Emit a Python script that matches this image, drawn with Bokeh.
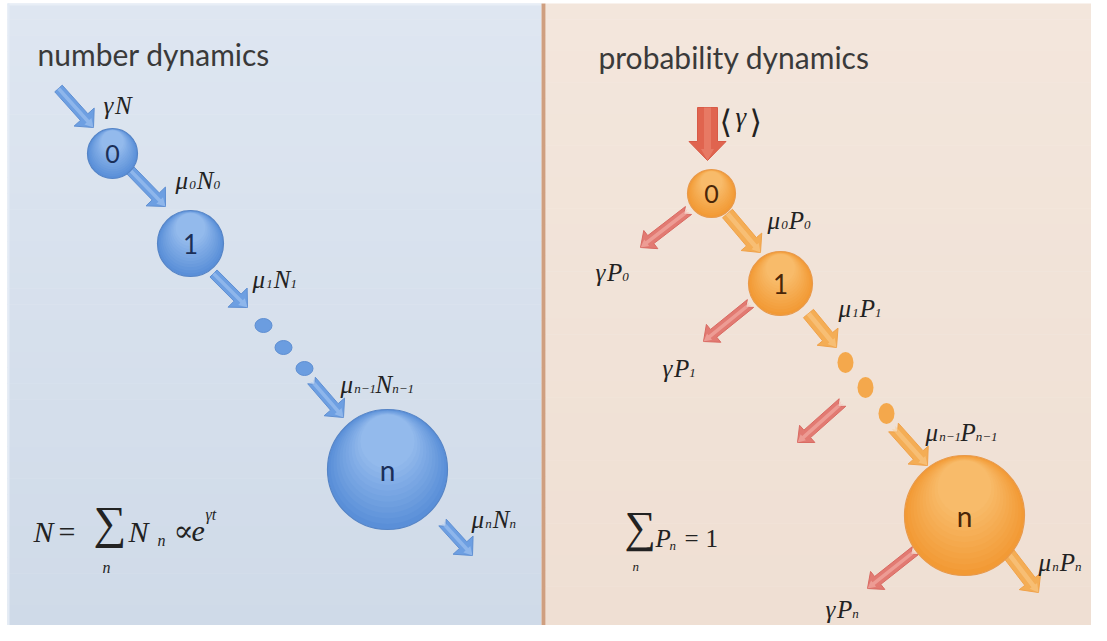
import math
from bokeh.plotting import figure
from bokeh.models import Range1d, ColumnDataSource
from bokeh.core.properties import value
from bokeh.embed import file_html
from bokeh.resources import INLINE

# ---------------- data ----------------
titles = ["number dynamics", "probability dynamics"]
title_x = [37, 598]
title_y = [53, 56]

# left: number dynamics
left_node_x = [112, 190, 387]
left_node_y = [153, 243, 469]
left_node_r = [25, 33, 60]
left_node_label = ["0", "1", "n"]
left_dot_x = [263, 283, 304]
left_dot_y = [325, 347, 368]
left_arrow_tail = [(58, 88), (130, 170), (213, 273), (311, 380), (442, 522)]
left_arrow_tip = [(93, 127), (165, 206), (247, 307), (343, 417), (472, 555)]
left_labels = [
    [("γ", "m"), ("N", "m")],
    [("μ", "m"), ("0", "s"), ("N", "m"), ("0", "s")],
    [("μ", "m"), ("1", "s"), ("N", "m"), ("1", "s")],
    [("μ", "m"), ("n−1", "s"), ("N", "m"), ("n−1", "s")],
    [("μ", "m"), ("n", "s"), ("N", "m"), ("n", "s")],
]
left_label_x = [103, 175, 252, 340, 471]
left_label_y = [105, 180, 279, 384, 519]

# right: probability dynamics
right_node_x = [711, 780, 964]
right_node_y = [193, 283, 515]
right_node_r = [24, 32, 60]
right_node_label = ["0", "1", "n"]
right_dot_x = [845, 865, 886]
right_dot_y = [362, 387, 413]
orange_arrow_tail = [(727, 213), (808, 313), (893, 427), (1008, 553)]
orange_arrow_tip = [(760, 252), (836, 347), (927, 465), (1038, 592)]
red_arrow_tail = [(688, 210), (750, 303), (842, 402), (915, 550)]
red_arrow_tip = [(640, 247), (703, 341), (797, 442), (867, 588)]
influx_tail = (707, 107)
influx_tip = (707, 160)
right_labels = [
    [("μ", "m"), ("0", "s"), ("P", "m"), ("0", "s")],
    [("γ", "m"), ("P", "m"), ("0", "s")],
    [("μ", "m"), ("1", "s"), ("P", "m"), ("1", "s")],
    [("γ", "m"), ("P", "m"), ("1", "s")],
    [("μ", "m"), ("n−1", "s"), ("P", "m"), ("n−1", "s")],
    [("γ", "m"), ("P", "m"), ("n", "s")],
    [("μ", "m"), ("n", "s"), ("P", "m"), ("n", "s")],
]
right_label_x = [767, 595, 838, 662, 925, 825, 1038]
right_label_y = [220, 272, 308, 368, 432, 609, 562]

# ---------------- figure ----------------
W, H = 1091, 625
p = figure(width=W, height=H, x_range=Range1d(0, W), y_range=Range1d(H, 0),
           output_backend="svg", toolbar_location=None, min_border=0)
p.axis.visible = False
p.grid.visible = False
p.outline_line_color = None
p.background_fill_color = "white"
p.border_fill_color = "white"


def hex2rgb(h):
    h = h.lstrip("#")
    return tuple(int(h[i:i + 2], 16) for i in (0, 2, 4))


def mix(c1, c2, t):
    a, b = hex2rgb(c1), hex2rgb(c2)
    return "#%02x%02x%02x" % tuple(int(round(a[i] + (b[i] - a[i]) * t)) for i in range(3))


# panel backgrounds (vertical gradient)
def panel(x0, x1, y0, y1, ctop, cbot, n=40):
    tops, bots, cols = [], [], []
    for i in range(n):
        a = y0 + (y1 - y0) * i / n
        b = y0 + (y1 - y0) * (i + 1) / n
        tops.append(a)
        bots.append(b + 0.5)
        cols.append(mix(ctop, cbot, i / (n - 1)))
    p.quad(left=[x0] * n, right=[x1] * n, top=tops, bottom=bots, fill_color=cols, line_color=None)


panel(7, 541, 3, 636, "#dee6f1", "#cfdae8")
panel(545, 1107, 3, 633, "#f3e6dc", "#efdfd3")
p.quad(left=[7], right=[541], top=[3], bottom=[5], fill_color="#e8eef6", line_color=None)
p.quad(left=[7], right=[9], top=[3], bottom=[636], fill_color="#e4ebf5", line_color=None)
p.quad(left=[541], right=[545], top=[3], bottom=[636], fill_color="#cf9f80", line_color=None)
p.quad(left=[545], right=[1107], top=[632], bottom=[637], fill_color="#f5c195", line_color=None)


# arrows
def arrow_poly(tail, tip, w, hw, hl, notch=0.0):
    x0, y0 = tail
    x1, y1 = tip
    dx, dy = x1 - x0, y1 - y0
    L = math.hypot(dx, dy)
    ux, uy = dx / L, dy / L
    nx, ny = -uy, ux
    bx, by = x1 - ux * hl, y1 - uy * hl
    pts = [(x0 + nx * w / 2, y0 + ny * w / 2), (bx + nx * w / 2, by + ny * w / 2),
           (bx + nx * hw / 2, by + ny * hw / 2), (x1, y1),
           (bx - nx * hw / 2, by - ny * hw / 2), (bx - nx * w / 2, by - ny * w / 2),
           (x0 - nx * w / 2, y0 - ny * w / 2)]
    if notch:
        pts.append((x0 + ux * notch, y0 + uy * notch))
    return [q[0] for q in pts], [q[1] for q in pts]


def draw_arrows(tails, tips, w, hw, hl, fill, edge, hi, notches):
    xs, ys, hxs, hys = [], [], [], []
    for t, e, nt in zip(tails, tips, notches):
        a, b = arrow_poly(t, e, w, hw, hl, nt)
        xs.append(a)
        ys.append(b)
        c, d = arrow_poly(t, e, w * 0.35, hw * 0.35, hl * 0.6, nt * 0.5)
        hxs.append(c)
        hys.append(d)
    p.patches(xs, ys, fill_color=fill, line_color=edge, line_width=1)
    p.patches(hxs, hys, fill_color=hi, fill_alpha=0.55, line_color=None)


draw_arrows(left_arrow_tail, left_arrow_tip, 10, 27, 14, "#6d9fe2", "#5f8fd2", "#a9c8f2",
            [0, 0, 0, 5, 5])
draw_arrows(orange_arrow_tail, orange_arrow_tip, 13, 27, 14, "#f4ad55", "#f0a24a", "#f9cc8e",
            [0, 0, 6, 0])
draw_arrows(red_arrow_tail, red_arrow_tip, 10, 23, 13, "#e27a72", "#d96a62", "#f6b8b0",
            [6, 6, 6, 6])
draw_arrows([influx_tail], [influx_tip], 20, 37, 19, "#e0644f", "#d85a47", "#ec8a76", [0])


# shaded balls
def balls(xs, ys, rs, cbot, ctop, edge, k=12):
    bx, by, br, bc = [], [], [], []
    for x, y, r in zip(xs, ys, rs):
        for i in range(k):
            t = i / (k - 1)
            rr = r * (1 - 0.55 * t)
            bx.append(x)
            by.append(y - (r - rr) * 0.85)
            br.append(rr)
            bc.append(mix(cbot, ctop, t))
    p.circle(bx, by, radius=br, fill_color=bc, line_color=None)
    p.circle(xs, ys, radius=rs, fill_color=None, line_color=edge, line_width=1.2)


balls(left_node_x, left_node_y, left_node_r, "#5a8fd8", "#93baec", "#5584c6")
balls(right_node_x, right_node_y, right_node_r, "#f29a35", "#f8bb6a", "#e8994a")

p.ellipse(left_dot_x, left_dot_y, width=17, height=14, fill_color="#6b9de0", line_color="#5f8fd2")
p.ellipse(right_dot_x, right_dot_y, width=16, height=21, fill_color="#f4a84c", line_color=None)

# node labels
sans = value("Lato")
node_sizes = ["25px", "26px", "28px"]
for nx_, ny_, lab, col in [(left_node_x, left_node_y, left_node_label, "#1b2f58"),
                           (right_node_x, right_node_y, right_node_label, "#4a2608")]:
    src = ColumnDataSource(dict(x=nx_, y=ny_, t=lab, s=node_sizes))
    p.text("x", "y", text="t", source=src, text_font=sans, text_font_size="s",
           text_color=col, text_align="center", text_baseline="middle")

# titles
p.text(title_x, title_y, text=titles, text_font=sans, text_font_size="30px",
       text_color="#3a3a3a", text_baseline="alphabetic")

# math labels
WID = {"μ": 0.55, "γ": 0.46, "N": 0.667, "P": 0.611, "0": 0.5, "1": 0.5, "n": 0.5, "−": 0.56}
MAIN, SUB = 25, 13
serif = value("Liberation Serif")
mx, my, mt, sx, sy, st = [], [], [], [], [], []
for labs, lx, ly in [(left_labels, left_label_x, left_label_y),
                     (right_labels, right_label_x, right_label_y)]:
    for parts, x, y in zip(labs, lx, ly):
        cx = x
        for txt, kind in parts:
            if kind == "m":
                mx.append(cx); my.append(y); mt.append(txt)
                cx += sum(WID.get(c, 0.5) for c in txt) * MAIN
            else:
                sx.append(cx); sy.append(y + 4); st.append(txt)
                cx += sum(WID.get(c, 0.5) for c in txt) * SUB + 1
p.text(mx, my, text=mt, text_font=serif, text_font_style="italic",
       text_font_size=f"{MAIN}px", text_color="#222222", text_baseline="alphabetic")
p.text(sx, sy, text=st, text_font=serif, text_font_style="italic",
       text_font_size=f"{SUB}px", text_color="#222222", text_baseline="alphabetic")

# <gamma>
p.text([719, 749], [121, 121], text=["⟨", "⟩"], text_font=value("DejaVu Sans"),
       text_font_size="32px", text_color="#222222", text_baseline="alphabetic")
p.text([735], [116], text=["γ"], text_font=serif, text_font_style="italic",
       text_font_size="27px", text_color="#222222", text_baseline="alphabetic")

# formulas
# left: N = sum_n N_n ∝ e^{γt}
p.text([33, 128, 191], [531, 531, 531], text=["N", "N", "e"], text_font=serif,
       text_font_style="italic", text_font_size="30px", text_color="#222222",
       text_baseline="alphabetic")
p.text([58], [531], text=["="], text_font=serif, text_font_size="30px",
       text_color="#222222", text_baseline="alphabetic")
p.text([173], [530], text=["∝"], text_font=value("DejaVu Serif"), text_font_size="30px",
       text_color="#222222", text_baseline="alphabetic")
p.text([93], [522], text=["∑"], text_font=serif, text_font_size="46px",
       text_color="#222222", text_baseline="alphabetic")
p.text([102, 157, 205], [567, 540, 514], text=["n", "n", "γt"], text_font=serif,
       text_font_style="italic", text_font_size="16px", text_color="#222222",
       text_baseline="alphabetic")

# right: sum_n P_n = 1
p.text([624], [527], text=["∑"], text_font=serif, text_font_size="44px",
       text_color="#222222", text_baseline="alphabetic")
p.text([655], [538], text=["P"], text_font=serif, text_font_style="italic",
       text_font_size="25px", text_color="#222222", text_baseline="alphabetic")
p.text([684, 705], [538, 538], text=["=", "1"], text_font=serif, text_font_size="25px",
       text_color="#222222", text_baseline="alphabetic")
p.text([632, 669], [566, 545], text=["n", "n"], text_font=serif, text_font_style="italic",
       text_font_size="13px", text_color="#222222", text_baseline="alphabetic")

open("out.html", "w").write(file_html(p, INLINE))
